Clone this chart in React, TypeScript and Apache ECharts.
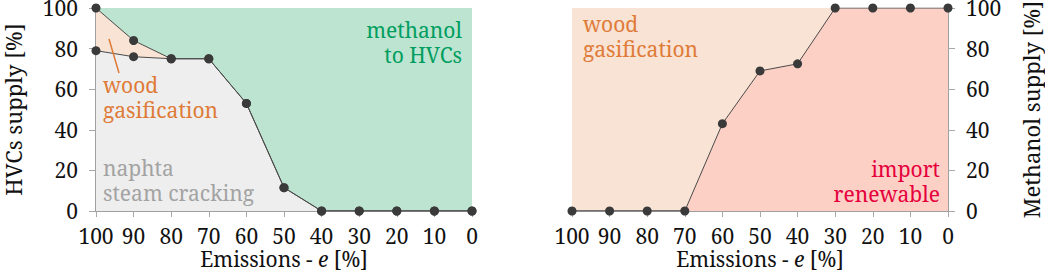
import React, { useEffect, useRef } from "react";
import * as echarts from "echarts";

const emissions = [100, 90, 80, 70, 60, 50, 40, 30, 20, 10, 0];
const hvcNaphta = [79, 76, 75, 75, 53, 11.5, 0, 0, 0, 0, 0];
const hvcNaphtaWood = [100, 84, 75, 75, 53, 11.5, 0, 0, 0, 0, 0];
const methanolImport = [0, 0, 0, 0, 43, 69, 72.5, 100, 100, 100, 100];
const yTicks = [0, 20, 40, 60, 80, 100];

const FONT = "Noto Serif";
const FS_TICK = 21;
const FS_NAME = 21;
const FS_NOTE = 21;
const GREEN_AREA = "#bde4d0";
const GREEN_TEXT = "#009e60";
const ORANGE_AREA = "#f8e3d4";
const ORANGE_TEXT = "#df7b38";
const GREY_AREA = "#eeeeee";
const GREY_TEXT = "#a3a3a3";
const RED_AREA = "#fdd0c6";
const RED_TEXT = "#e5003c";
const DOT = "#3a3a3a";

const pairs = (ys: number[]) => emissions.map((x, i) => [x, ys[i]]);

const tickTxt = { fontFamily: FONT, fontSize: FS_TICK, color: "#111" };
const nameTxt = { fontFamily: FONT, fontSize: FS_NAME, color: "#111" };

function xAxis(gridIndex: number) {
  return {
    gridIndex,
    type: "value",
    min: 0,
    max: 100,
    interval: 10,
    inverse: true,
    splitLine: { show: false },
    axisLine: { show: true, onZero: false, lineStyle: { color: "#808080", width: 1.5 } },
    axisTick: { show: true, length: 6, lineStyle: { color: "#a8a8a8", width: 1 } },
    axisLabel: { ...tickTxt, margin: 14 },
    name: "Emissions - {i|e} [%]",
    nameLocation: "middle",
    nameGap: 37,
    nameMoveOverlap: false,
    nameTextStyle: {
      ...nameTxt,
      rich: { i: { ...nameTxt, fontStyle: "italic" } },
    },
  };
}

function yAxis(gridIndex: number, position: string, name: string) {
  return {
    gridIndex,
    type: "value",
    position,
    min: yTicks[0],
    max: yTicks[yTicks.length - 1],
    interval: 20,
    splitLine: { show: false },
    axisLine: { show: true, onZero: false, lineStyle: { color: "#808080", width: 1.5 } },
    axisTick: { show: true, length: 7, lineStyle: { color: "#a8a8a8", width: 1 } },
    axisLabel: { ...tickTxt, margin: 18 },
    name,
    nameLocation: "middle",
    nameRotate: 90,
    nameGap: 72,
    nameMoveOverlap: false,
    nameTextStyle: { ...nameTxt, fontSize: 22 },
  };
}

function areaSeries(xi: number, ys: number[], color: string, z: number) {
  return {
    type: "line",
    xAxisIndex: xi,
    yAxisIndex: xi,
    data: pairs(ys),
    symbol: "none",
    silent: true,
    lineStyle: { width: 0, opacity: 0 },
    areaStyle: { color, opacity: 1 },
    z,
  };
}

function lineSeries(xi: number, ys: number[]) {
  return {
    type: "line",
    xAxisIndex: xi,
    yAxisIndex: xi,
    data: pairs(ys),
    symbol: "circle",
    symbolSize: 9,
    itemStyle: { color: DOT, borderWidth: 0 },
    lineStyle: { color: "#4a4a4a", width: 1 },
    z: 5,
  };
}

function label(x: number, y: number, text: string, fill: string, align: string) {
  return {
    type: "text",
    x,
    y,
    z: 10,
    style: {
      text,
      fill,
      fontFamily: FONT,
      fontSize: FS_NOTE,
      lineHeight: 25,
      align,
      verticalAlign: "top",
    },
  };
}

export default function App() {
  const ref = useRef<HTMLDivElement>(null);
  useEffect(() => {
    const chart = echarts.init(ref.current!, null, { renderer: "svg" });
    chart.setOption({
      animation: false,
      textStyle: { fontFamily: FONT },
      grid: [
        { left: 96, top: 8, width: 376, height: 203, show: true, backgroundColor: GREEN_AREA, borderWidth: 0, containLabel: false, outerBoundsMode: "none" },
        { left: 572, top: 8, width: 376, height: 203, show: true, backgroundColor: ORANGE_AREA, borderWidth: 0, containLabel: false, outerBoundsMode: "none" },
      ],
      xAxis: [xAxis(0), xAxis(1)],
      yAxis: [yAxis(0, "left", "HVCs supply [%]"), yAxis(1, "right", "Methanol supply [%]")],
      series: [
        areaSeries(0, hvcNaphtaWood, ORANGE_AREA, 1),
        areaSeries(0, hvcNaphta, GREY_AREA, 2),
        lineSeries(0, hvcNaphtaWood),
        lineSeries(0, hvcNaphta),
        areaSeries(1, methanolImport, RED_AREA, 1),
        lineSeries(1, methanolImport),
      ],
      graphic: [
        label(462, 17, "methanol\nto HVCs", GREEN_TEXT, "right"),
        label(103, 72, "wood\ngasification", ORANGE_TEXT, "left"),
        { type: "line", z: 10, shape: { x1: 109, y1: 39, x2: 119, y2: 73 }, style: { stroke: ORANGE_TEXT, lineWidth: 1.5 } },
        label(103, 155, "naphta\nsteam cracking", GREY_TEXT, "left"),
        label(583, 11, "wood\ngasification", ORANGE_TEXT, "left"),
        label(940, 156, "import\nrenewable", RED_TEXT, "right"),
      ],
    });
    return () => chart.dispose();
  }, []);
  return <div ref={ref} style={{ position: "absolute", left: 0, top: 0, width: 1045, height: 272 }} />;
}
